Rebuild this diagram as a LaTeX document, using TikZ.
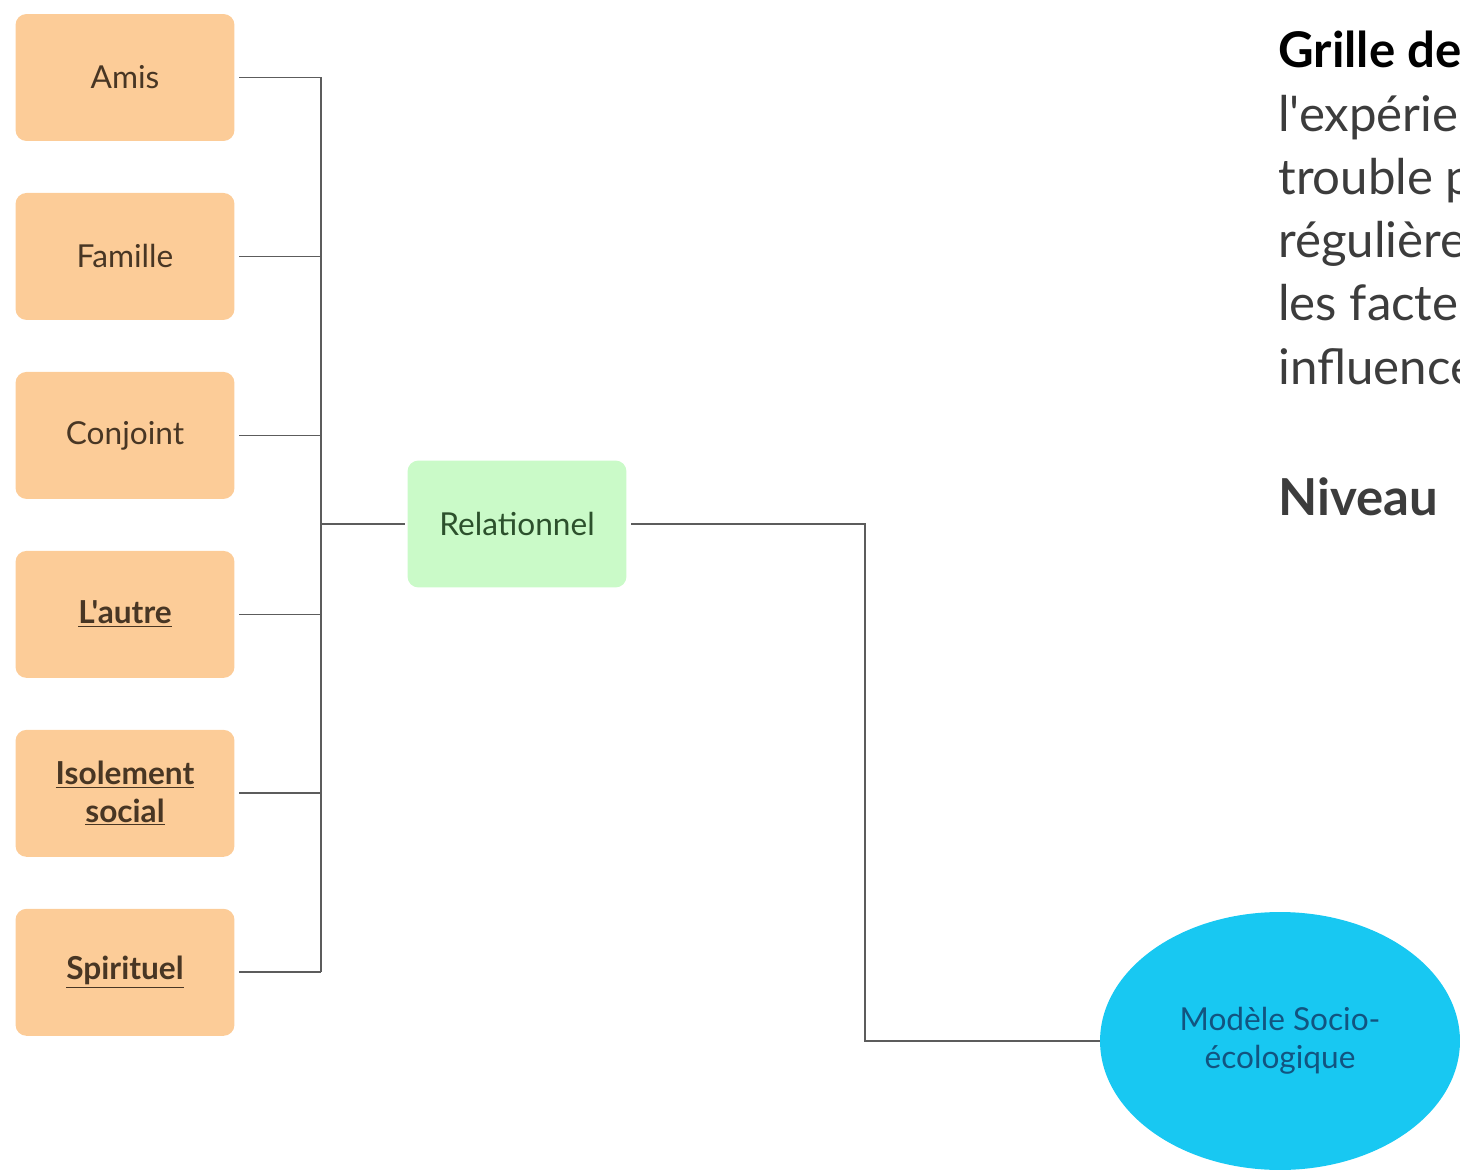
\documentclass[tikz,border=0pt]{standalone}
\usepackage{fontspec}
\setmainfont{Lato}[Ligatures=TeXOff]
\usetikzlibrary{positioning,shapes.geometric}
\definecolor{peach}{RGB}{252,204,152}
\definecolor{mint}{RGB}{202,250,200}
\definecolor{sky}{RGB}{24,200,242}
\definecolor{wire}{RGB}{92,92,92}
\definecolor{bark}{RGB}{72,54,36}
\definecolor{leafink}{RGB}{44,80,44}
\definecolor{deepsea}{RGB}{18,84,128}
\definecolor{ink}{RGB}{60,60,60}

\begin{document}
\begin{tikzpicture}[
  x=0.02cm, y=-0.02cm,
  node distance=1.04cm,
  leaf/.style={fill=peach, rounded corners=0.22cm, minimum width=4.38cm, minimum height=2.54cm, align=center, outer sep=0pt, text=bark, font=\fontsize{18}{21.5}\selectfont},
  hub/.style={leaf, fill=mint, text=leafink},
  core/.style={ellipse, fill=sky, minimum width=7.2cm, minimum height=5.16cm, align=center, outer sep=0pt, text=deepsea, font=\fontsize{18}{21.5}\selectfont},
  link/.style={draw=wire, line width=1pt, shorten <=0.1cm},
]
  \useasboundingbox (0,0) rectangle (1460,1172);

  % the six relational factors
  \node[leaf] (amis) at (125,77.5) {Amis};
  \node[leaf, below=of amis] (famille) {Famille};
  \node[leaf, below=of famille] (conjoint) {Conjoint};
  \node[leaf, below=of conjoint, font=\fontsize{18}{21.5}\selectfont\bfseries] (autre) {\underline{L'autre}};
  \node[leaf, below=of autre, font=\fontsize{18}{21.5}\selectfont\bfseries] (isolement) {\underline{Isolement}\\\underline{social}};
  \node[leaf, below=of isolement, font=\fontsize{18}{21.5}\selectfont\bfseries] (spirituel) {\underline{Spirituel}};

  \node[hub] (rel) at (517,524) {Relationnel};
  \node[core] (model) at (1280,1041) {Modèle Socio-\\écologique};

  \coordinate (bus) at (321,0);
  \coordinate (knee) at (865,0);

  \foreach \n in {amis,famille,conjoint,autre,isolement,spirituel}
    \draw[link] (\n.east) -- (\n.east -| bus);
  \draw[link, shorten <=0pt] (amis.east -| bus) -- (spirituel.east -| bus);
  \draw[link, shorten <=0pt, shorten >=0.06cm] (bus |- rel.west) -- (rel.west);
  \draw[link] (rel.east) -- (rel.east -| knee) |- (model.west);

  % text on the right, cut by the page edge
  \node[anchor=north west, inner sep=0pt, align=left, text=ink, font=\fontsize{28}{36}\selectfont] (grille) at (1278,31)
    {{\color{black}\bfseries Grille de}\\l'expérie\\trouble p\\régulière\\les facteu\\influence};
  \node[anchor=north west, inner sep=0pt, text=ink, font=\fontsize{29}{36}\selectfont\bfseries] (niveau) at (1278,477) {Niveau};
\end{tikzpicture}
\end{document}
